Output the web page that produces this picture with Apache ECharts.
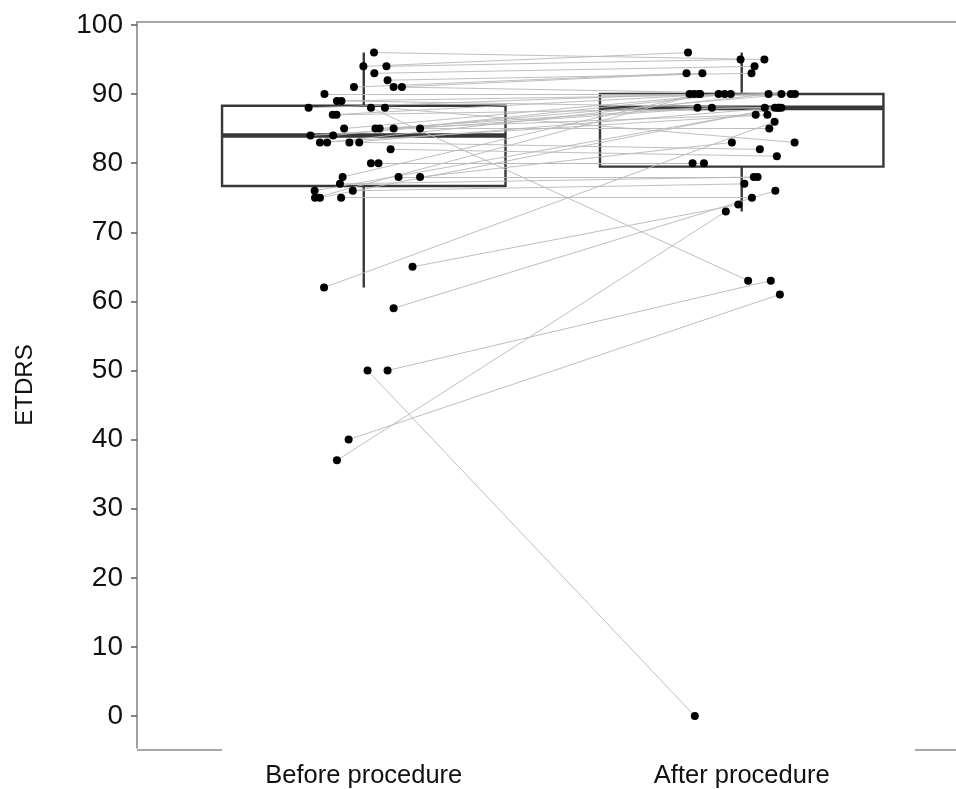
<!DOCTYPE html>
<html>
<head>
<meta charset="utf-8">
<script src="https://cdn.jsdelivr.net/npm/echarts@6/dist/echarts.min.js"></script>
<style>html,body{margin:0;padding:0;background:#fff}#c{width:956px;height:789px}</style>
</head>
<body>
<div id="c"></div>
<script>
// ---- data ----
const categories = ['Before procedure', 'After procedure'];
const yTicks = [0, 10, 20, 30, 40, 50, 60, 70, 80, 90, 100];

// paired ETDRS scores (index i = same eye before / after)
const beforeScore = [96,94,94,93,92,91,91,91,90,89,89,88,88,87,87,85,85,85,85,85,84,84,83,83,83,83,82,80,80,78,78,78,77,76,76,75,75,75,88,65,62,59,50,50,40,37];
const afterScore  = [95,96,95,94,93,93,93,90,90,90,88,90,83,90,88,90,87,88,90,85,88,90,87,90,88,82,81,80,80,90,78,83,78,88,77,90,88,75,63,74,86,76,0,63,61,73];

// horizontal jitter of each point (in category units)
const beforeJitter = [0.027,-0.001,0.060,0.028,0.063,-0.026,0.079,0.101,-0.104,-0.071,-0.059,-0.146,0.056,-0.082,-0.072,-0.052,0.031,0.042,0.079,0.149,-0.141,-0.081,-0.116,-0.097,-0.038,-0.012,0.071,0.019,0.039,-0.056,0.092,0.149,-0.063,-0.130,-0.029,-0.129,-0.116,-0.060,0.019,0.129,-0.105,0.079,0.010,0.063,-0.040,-0.071];
const afterJitter  = [0.060,-0.142,-0.003,0.034,0.026,-0.146,-0.104,0.141,-0.138,0.105,0.098,-0.126,0.140,-0.061,0.061,-0.045,0.037,-0.117,0.130,0.073,-0.079,-0.029,0.068,0.071,0.088,0.048,0.093,-0.130,-0.100,-0.114,0.032,-0.026,0.042,0.105,0.007,-0.110,0.096,0.027,0.017,-0.009,0.087,0.089,-0.124,0.077,0.101,-0.042];

// box statistics [lower whisker, Q1, median, Q3, upper whisker]
const boxBefore = [62, 76.7, 84, 88.3, 96];
const boxAfter  = [73, 79.5, 88, 90, 96];

// ---- chart ----
const FONT = 'Liberation Sans, Arial, Helvetica, sans-serif';
const chart = echarts.init(document.getElementById('c'), null, {renderer: 'canvas'});

const pointsData = [];
const linesData = [];
for (let i = 0; i < beforeScore.length; i++) {
  const b = [1 + beforeJitter[i], beforeScore[i]];
  const a = [2 + afterJitter[i], afterScore[i]];
  pointsData.push(b, a);
  linesData.push({coords: [b, a]});
}

const boxData = [[1].concat(boxBefore), [2].concat(boxAfter)];

function renderBox(params, api) {
  const x = api.value(0);
  const lo = api.value(1), q1 = api.value(2), med = api.value(3), q3 = api.value(4), hi = api.value(5);
  const hw = 0.375;
  const tl = api.coord([x - hw, q3]);
  const br = api.coord([x + hw, q1]);
  const top = api.coord([x, hi]);
  const q3c = api.coord([x, q3]);
  const q1c = api.coord([x, q1]);
  const bot = api.coord([x, lo]);
  const mL = api.coord([x - hw, med]);
  const mR = api.coord([x + hw, med]);
  const st = {stroke: '#383838', lineWidth: 2.4, fill: null};
  return {
    type: 'group',
    children: [
      {type: 'line', shape: {x1: top[0], y1: top[1], x2: q3c[0], y2: q3c[1]}, style: st},
      {type: 'line', shape: {x1: q1c[0], y1: q1c[1], x2: bot[0], y2: bot[1]}, style: st},
      {type: 'rect', shape: {x: tl[0], y: tl[1], width: br[0] - tl[0], height: br[1] - tl[1]},
        style: {stroke: '#383838', lineWidth: 2.4, fill: '#ffffff'}},
      {type: 'line', shape: {x1: mL[0], y1: mL[1], x2: mR[0], y2: mR[1]}, style: {stroke: '#383838', lineWidth: 4.6}}
    ]
  };
}

const option = {
  backgroundColor: '#ffffff',
  animation: false,
  textStyle: {fontFamily: FONT},
  grid: {left: 137, top: 22, right: 0, bottom: 39, containLabel: false},
  xAxis: [
    {
      type: 'value', min: 0.4, max: 2.567, position: 'bottom',
      axisLine: {show: false, onZero: false},
      axisTick: {show: false},
      splitLine: {show: false},
      axisLabel: {
        customValues: [1, 2],
        formatter: v => categories[Math.round(v) - 1],
        fontSize: 25.5, color: '#111', fontFamily: FONT, margin: 15
      }
    },
    {
      type: 'value', min: 0.4, max: 2.567, position: 'top',
      axisLine: {show: true, onZero: false, lineStyle: {color: '#8a8a8a', width: 1.6}},
      axisTick: {show: false}, axisLabel: {show: false}, splitLine: {show: false}
    }
  ],
  yAxis: {
    type: 'value', min: -4.62, max: 100.42,
    axisLine: {show: true, onZero: false, lineStyle: {color: '#8a8a8a', width: 1.6}},
    axisTick: {show: true, customValues: yTicks, length: 6, lineStyle: {color: '#666', width: 1.6}},
    axisLabel: {customValues: yTicks, fontSize: 28, color: '#111', fontFamily: FONT, margin: 14},
    splitLine: {show: false},
    name: 'ETDRS', nameLocation: 'middle', nameGap: 100,
    nameTextStyle: {fontSize: 24, color: '#111', fontFamily: FONT}
  },
  graphic: [
    {type: 'line', shape: {x1: 137, y1: 750, x2: 222, y2: 750}, style: {stroke: '#8a8a8a', lineWidth: 1.6}},
    {type: 'line', shape: {x1: 915, y1: 750, x2: 956, y2: 750}, style: {stroke: '#8a8a8a', lineWidth: 1.6}}
  ],
  series: [
    {
      type: 'custom', name: 'box', renderItem: renderBox, data: boxData,
      encode: {x: 0, y: [1, 2, 3, 4, 5]}, z: 1, silent: true, clip: false
    },
    {
      type: 'lines', coordinateSystem: 'cartesian2d', data: linesData,
      lineStyle: {color: '#b8b8b8', width: 0.9, opacity: 1}, z: 2, silent: true
    },
    {
      type: 'scatter', data: pointsData, symbol: 'circle', symbolSize: 8,
      itemStyle: {color: '#000000', opacity: 1}, z: 3, silent: true
    }
  ]
};
chart.setOption(option);
</script>
</body>
</html>
